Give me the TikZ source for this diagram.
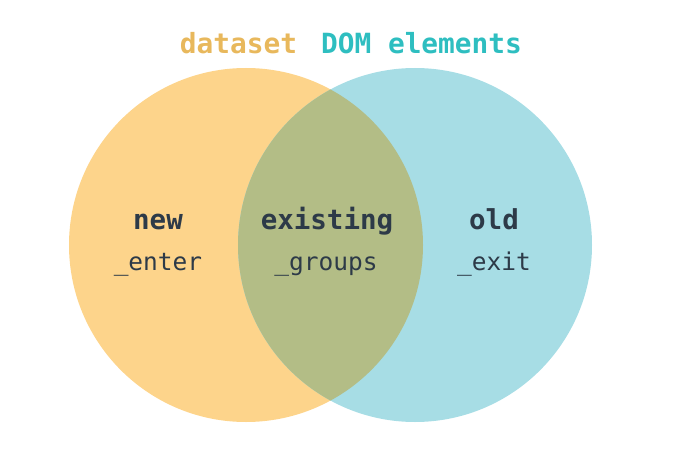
\documentclass[tikz,border=0pt]{standalone}
\usepackage{fontspec}
\setmonofont{DejaVu Sans Mono}
\definecolor{setorange}{RGB}{253,212,139}
\definecolor{setteal}{RGB}{167,221,229}
\definecolor{setboth}{RGB}{179,189,134}
\definecolor{titleorange}{RGB}{232,184,92}
\definecolor{titleteal}{RGB}{46,190,192}
\definecolor{ink}{RGB}{45,58,72}
\tikzset{
  bigword/.style={anchor=base, text=ink, inner sep=0pt, font=\ttfamily\bfseries\fontsize{27.5}{30}\selectfont},
  smallword/.style={anchor=base, text=ink, inner sep=0pt, font=\ttfamily\fontsize{24.5}{28}\selectfont},
  titleword/.style={anchor=base, inner sep=0pt, font=\ttfamily\bfseries\fontsize{27.8}{30}\selectfont},
}
\begin{document}
\begin{tikzpicture}[x=1pt,y=-1pt]
\useasboundingbox (0,0) rectangle (683,460);
\fill[setorange] (246,245) circle[radius=177];
\fill[setteal] (415,245) circle[radius=177];
\begin{scope}
  \clip (246,245) circle[radius=177];
  \fill[setboth] (415,245) circle[radius=177];
\end{scope}
\node[titleword, text=titleorange] (dataset) at (238.5,54) {dataset};
\node[titleword, text=titleteal] (dom) at (421.5,54) {DOM elements};
\node[bigword] (new) at (158,229) {new};
\node[bigword] (existing) at (327,229) {existing};
\node[bigword] (old) at (494,229) {old};
\node[smallword] (enter) at (158,270) {\_enter};
\node[smallword] (groups) at (326,270) {\_groups};
\node[smallword] (exit) at (494,270) {\_exit};
\end{tikzpicture}
\end{document}
